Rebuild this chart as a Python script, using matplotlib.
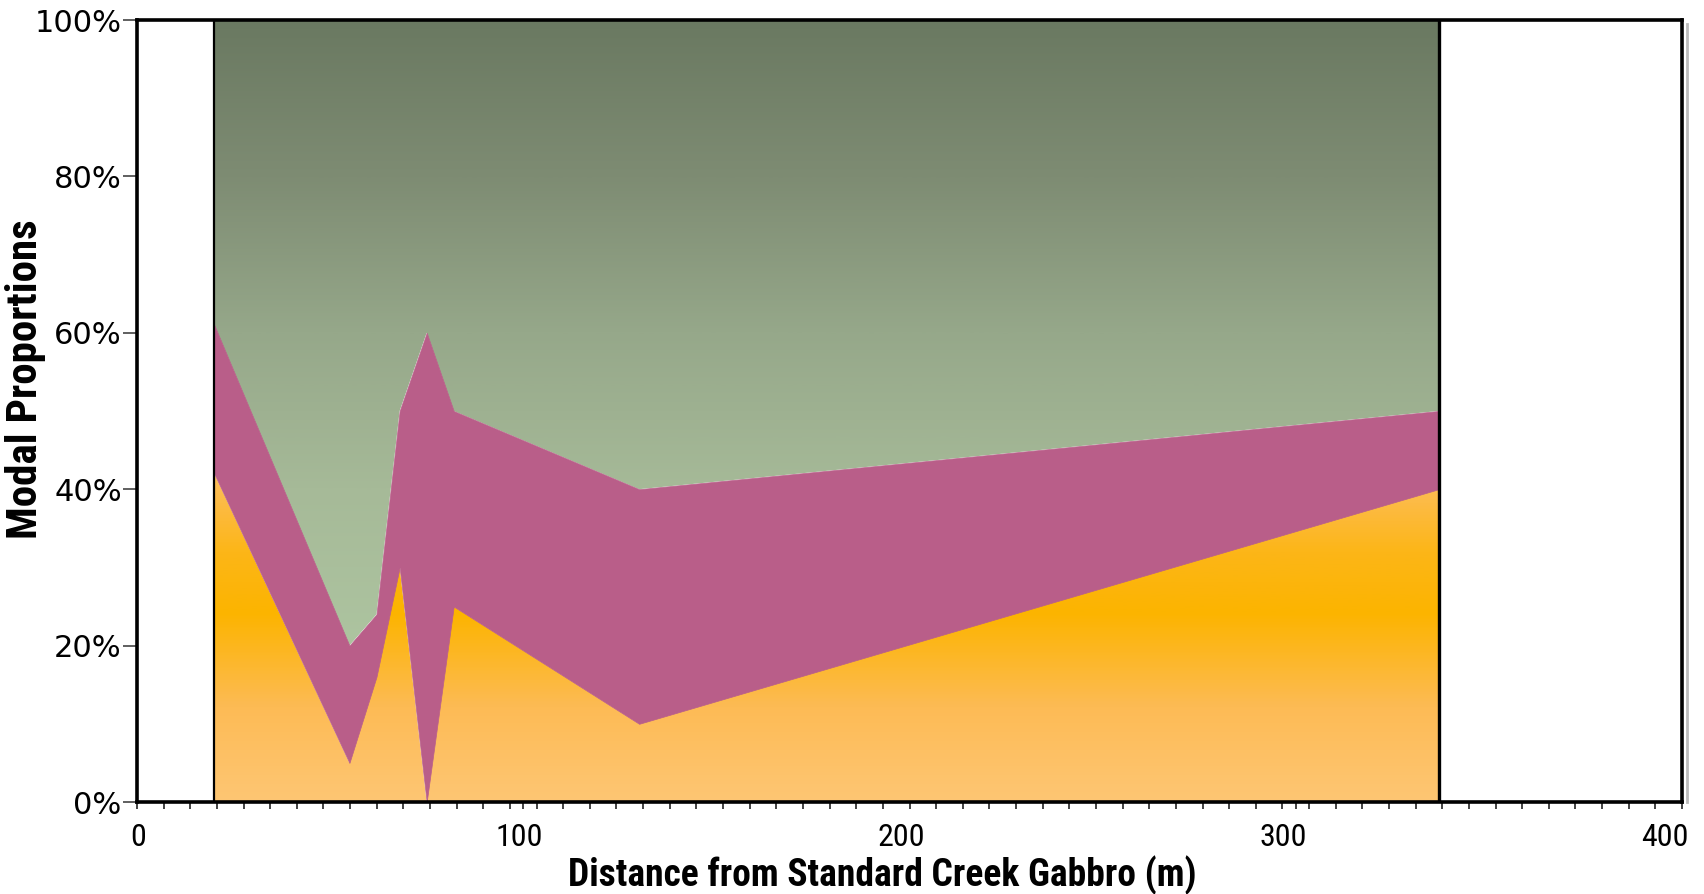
import numpy as np
import matplotlib
matplotlib.use("Agg")
import matplotlib.pyplot as plt
from matplotlib import font_manager
from matplotlib.colors import LinearSegmentedColormap
from matplotlib.ticker import FixedLocator, FuncFormatter
from matplotlib.transforms import ScaledTranslation

# ---- data ----
distance = [20, 55, 62, 68, 75, 82, 130, 337]          # m
layer_orange = [42, 5, 16, 30, 0, 25, 10, 40]           # %
layer_magenta = [19, 15, 8, 20, 60, 25, 30, 10]         # %
layer_green = [100 - a - b for a, b in zip(layer_orange, layer_magenta)]
x_major = [0, 100, 200, 300, 400]
y_major = [0, 20, 40, 60, 80, 100]

fl = font_manager.fontManager.ttflist
names = {f.name for f in fl}
narrow_family = None
narrow_stretch = 'normal'
for cand in ['Liberation Sans Narrow', 'Roboto Condensed', 'Open Sans Condensed']:
    if cand in names:
        narrow_family = cand
        break
if narrow_family is None:
    if any(f.name == 'DejaVu Sans' and str(f.stretch) in ('condensed', 'semi-condensed') for f in fl):
        narrow_family = 'DejaVu Sans'
        narrow_stretch = 'condensed'
condensed_ok = narrow_family is not None
if narrow_family is None:
    narrow_family = 'DejaVu Sans'

fig = plt.figure(figsize=(17.04, 8.94), dpi=100)
ax = fig.add_axes([137/1704, 1-802/894, (1682-137)/1704, (802-20)/894])

x = np.array(distance, float)
y1 = np.array(layer_orange, float)
y2 = y1 + np.array(layer_magenta, float)
y3 = y2 + np.array(layer_green, float)

def gradient_fill(lo, hi, stops):
    poly = ax.fill_between(x, lo, hi, facecolor='none', edgecolor='none', lw=0)
    cmap = LinearSegmentedColormap.from_list('g', [(p/100.0, c) for p, c in stops])
    grad = np.linspace(0, 1, 512).reshape(-1, 1)
    im = ax.imshow(grad, cmap=cmap, aspect='auto', origin='lower',
                   extent=[x[0], x[-1], 0, 100], interpolation='bilinear', zorder=1)
    im.set_clip_path(poly.get_paths()[0], transform=ax.transData)

orange_stops = [(0, '#FEC673'), (12, '#FDBB55'), (24, '#FCB400'), (32, '#FCB618'),
                (42, '#FDBE60'), (100, '#FDBE60')]
green_stops = [(0, '#AEC6A2'), (20, '#ADC4A0'), (40, '#A6BA98'), (60, '#96A88A'),
               (80, '#7E8C73'), (100, '#6A7961')]

gradient_fill(np.zeros_like(x), y1, orange_stops)
ax.fill_between(x, y1, y2, facecolor='#B95E89', edgecolor='#B95E89', lw=0.5, zorder=2)
gradient_fill(y2, y3, green_stops)

ax.vlines([x[0]], 0, 100, color='black', lw=1.6, zorder=4)
ax.vlines([x[-1]], 0, 100, color='black', lw=2.4, zorder=4)

ax.set_xlim(0, 400)
ax.set_ylim(0, 100)

for s in ax.spines.values():
    s.set_linewidth(2.6)
    s.set_color('black')
    s.set_zorder(5)
# light shadow to the right of the frame
ax.plot([1.003, 1.003], [0.0, 0.995], transform=ax.transAxes, color='#BBBBBB',
        lw=2, clip_on=False, zorder=4)

ax.xaxis.set_major_locator(FixedLocator(x_major))
minor = [i * 400 / 58 for i in range(59)]
ax.xaxis.set_minor_locator(FixedLocator(minor))
ax.yaxis.set_major_locator(FixedLocator(y_major))
ax.yaxis.set_major_formatter(FuncFormatter(lambda v, p: f"{int(v)}%"))

xt_size = 23 if condensed_ok else 21
lab_size_x = 27 if condensed_ok else 23
lab_size_y = 31 if condensed_ok else 23
ax.tick_params(axis='x', which='both', direction='out', length=5, width=1.2,
               color='#222222', pad=10, labelsize=xt_size)
ax.tick_params(axis='y', which='major', direction='out', length=10, width=1.2,
               color='#444444', pad=1, labelsize=22)
for lab in ax.get_xticklabels():
    lab.set_family(narrow_family)
    lab.set_stretch(narrow_stretch)
for lab in ax.get_yticklabels():
    lab.set_family('DejaVu Sans')

# labels in the reference drift slightly left toward the right end of the axis
for val, tick in zip(x_major, ax.xaxis.get_major_ticks()):
    dx_px = 1 - 18 * val / 400.0
    tick.label1.set_transform(tick.label1.get_transform() +
                              ScaledTranslation(dx_px / 100.0, 0, fig.dpi_scale_trans))

fig.text(882/1704, 1-886/894, 'Distance from Standard Creek Gabbro (m)',
         ha='center', va='baseline', fontsize=lab_size_x, fontweight='bold',
         family=narrow_family, stretch=narrow_stretch)
fig.text(26/1704, 1-379/894, 'Modal Proportions', rotation=90,
         ha='center', va='center', fontsize=lab_size_y, fontweight='bold',
         family=narrow_family, stretch=narrow_stretch)

fig.savefig('out.png', dpi=100)
